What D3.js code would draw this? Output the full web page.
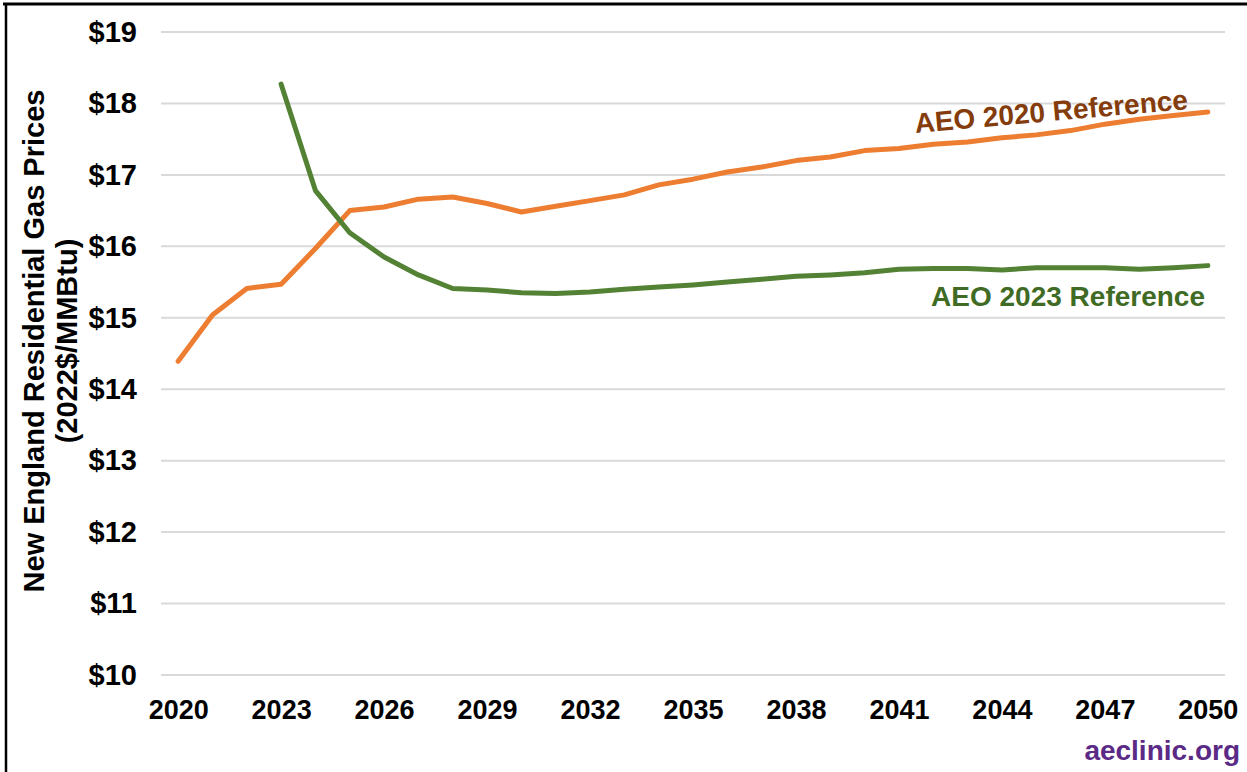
<!DOCTYPE html>
<html>
<head>
<meta charset="utf-8">
<script src="https://cdn.jsdelivr.net/npm/d3@7"></script>
<style>
  html, body { margin: 0; padding: 0; background: #fff; }
  svg { display: block; }
  text { font-family: "Liberation Sans", Arial, sans-serif; font-weight: bold; }
</style>
</head>
<body>
<svg id="chart" width="1247" height="772"></svg>
<script>
const years = d3.range(2020, 2051);
const aeo2020 = [14.39, 15.04, 15.41, 15.47, 15.97, 16.50, 16.55, 16.66, 16.69, 16.60,
                 16.48, 16.56, 16.64, 16.72, 16.86, 16.94, 17.04, 17.11, 17.20, 17.25,
                 17.34, 17.37, 17.43, 17.46, 17.52, 17.56, 17.62, 17.71, 17.78, 17.83, 17.88];
const aeo2023Years = d3.range(2023, 2051);
const aeo2023 = [18.27, 16.78, 16.19, 15.85, 15.60, 15.41, 15.39, 15.35, 15.34, 15.36,
                 15.40, 15.43, 15.46, 15.50, 15.54, 15.58, 15.60, 15.63, 15.68, 15.69,
                 15.69, 15.67, 15.70, 15.70, 15.70, 15.68, 15.70, 15.73];
const yTicks = [10, 11, 12, 13, 14, 15, 16, 17, 18, 19];
const xTickYears = [2020, 2023, 2026, 2029, 2032, 2035, 2038, 2041, 2044, 2047, 2050];
const seriesLabels = ["AEO 2020 Reference", "AEO 2023 Reference"];
const yTitle = ["New England Residential Gas Prices", "(2022$/MMBtu)"];
const watermark = "aeclinic.org";

const svg = d3.select("#chart");

// frame
svg.append("line").attr("x1", 3).attr("x2", 1247).attr("y1", 4).attr("y2", 4)
  .attr("stroke", "#000").attr("stroke-width", 3);
svg.append("line").attr("x1", 6).attr("x2", 6).attr("y1", 3).attr("y2", 772)
  .attr("stroke", "#000").attr("stroke-width", 2.5);

const x = d3.scalePoint().domain(years).range([161, 1225]).padding(0.5);
const y = d3.scaleLinear().domain([10, 19]).range([675, 32]);

// gridlines
svg.append("g").selectAll("line").data(yTicks).join("line")
  .attr("x1", 161).attr("x2", 1225)
  .attr("y1", d => y(d)).attr("y2", d => y(d))
  .attr("stroke", "#d9d9d9").attr("stroke-width", 2);

// y axis
const yAxis = d3.axisLeft(y).tickValues(yTicks).tickFormat(d => "$" + d).tickSize(0).tickPadding(0);
const gy = svg.append("g").attr("transform", "translate(137,0)").call(yAxis);
gy.select(".domain").remove();
gy.selectAll("text").attr("font-size", 29).attr("fill", "#000")
  .attr("font-family", "'Liberation Sans', Arial, sans-serif").attr("font-weight", "bold");

// x axis
const xAxis = d3.axisBottom(x).tickValues(xTickYears).tickSize(0).tickPadding(0);
const gx = svg.append("g").attr("transform", "translate(0,700)").call(xAxis);
gx.select(".domain").remove();
gx.selectAll("text").attr("font-size", 27).attr("fill", "#000")
  .attr("font-family", "'Liberation Sans', Arial, sans-serif").attr("font-weight", "bold");

// lines
const line = d3.line().x(d => x(d[0])).y(d => y(d[1]));
svg.append("path").datum(years.map((yr, i) => [yr, aeo2020[i]]))
  .attr("d", line).attr("fill", "none").attr("stroke", "#ED7D31")
  .attr("stroke-width", 5).attr("stroke-linejoin", "round").attr("stroke-linecap", "round");
svg.append("path").datum(aeo2023Years.map((yr, i) => [yr, aeo2023[i]]))
  .attr("d", line).attr("fill", "none").attr("stroke", "#548235")
  .attr("stroke-width", 5).attr("stroke-linejoin", "round").attr("stroke-linecap", "round");

// series labels
svg.append("text").text(seriesLabels[0])
  .attr("transform", "translate(1052,121) rotate(-5)")
  .attr("text-anchor", "middle").attr("font-size", 28).attr("fill", "#843C0C");
svg.append("text").text(seriesLabels[1])
  .attr("x", 1205).attr("y", 306)
  .attr("text-anchor", "end").attr("font-size", 28).attr("fill", "#3F6B25");

// y title
const yt = svg.append("text").attr("transform", "translate(0,341) rotate(-90)")
  .attr("text-anchor", "middle").attr("font-size", 29).attr("fill", "#000");
yt.append("tspan").attr("x", 0).attr("y", 44).text(yTitle[0]);
yt.append("tspan").attr("x", 0).attr("y", 77).text(yTitle[1]);

// watermark
svg.append("text").text(watermark).attr("x", 1240).attr("y", 760)
  .attr("text-anchor", "end").attr("font-size", 28)
  .attr("font-family", "Lato, 'Open Sans', sans-serif").attr("font-weight", "bold")
  .attr("fill", "#5B2A86");
</script>
</body>
</html>
